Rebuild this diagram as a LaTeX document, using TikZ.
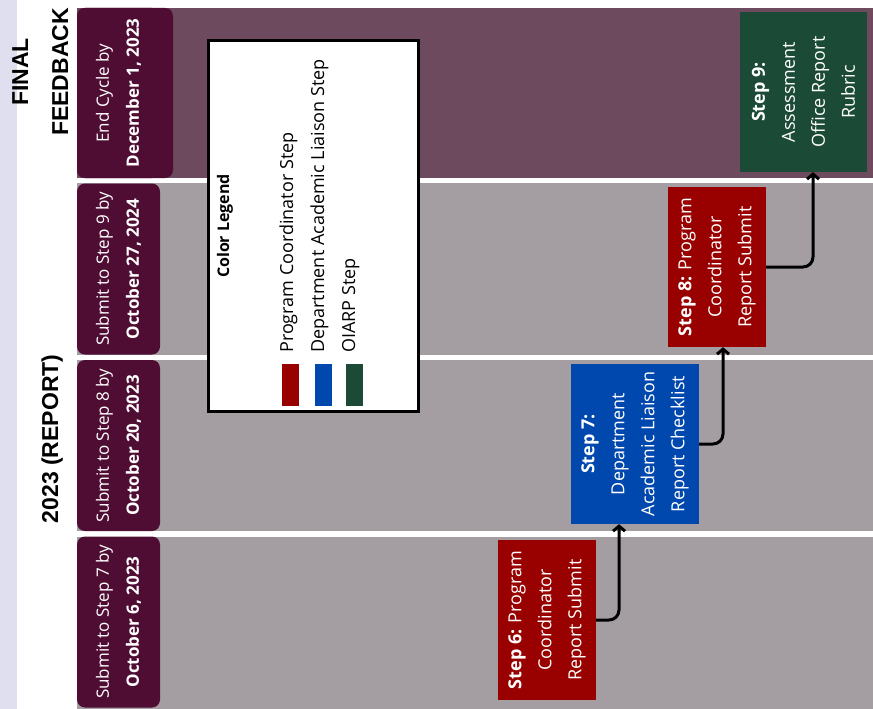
\documentclass[tikz,border=0pt]{standalone}
\usepackage{fontspec}
\setmainfont{Open Sans}
\newfontfamily\headfont{Liberation Sans}
\usetikzlibrary{arrows.meta,positioning}

\definecolor{sidelav}{HTML}{E0DFF0}
\definecolor{bandpurple}{HTML}{6D4A5E}
\definecolor{bandgray}{HTML}{A49EA3}
\definecolor{hdrmaroon}{HTML}{4F0D33}
\definecolor{stepred}{HTML}{990000}
\definecolor{stepblue}{HTML}{0048AD}
\definecolor{stepgreen}{HTML}{1B4A37}

\begin{document}
\begin{tikzpicture}[x=1pt, y=-1pt,
    hdr/.style={fill=hdrmaroon, rounded corners=8pt, text=white, rotate=90, align=center, minimum width=171pt, minimum height=83pt, inner sep=0pt, font=\fontsize{17}{30}\selectfont},
    stepbox/.style={text=white, rotate=90, align=center, minimum width=160pt, inner sep=0pt, font=\fontsize{18}{30}\selectfont},
    arr/.style={-{Straight Barb[length=5pt,width=12pt]}, line width=3pt, rounded corners=10pt},
    lgd/.style={rotate=90, anchor=base west, inner sep=0pt, font=\fontsize{18}{22}\selectfont},
    swatch/.style={minimum width=17pt, minimum height=42pt, inner sep=0pt},
    ttl/.style={rotate=90, anchor=base, inner sep=0pt, font=\headfont\bfseries\fontsize{23}{28}\selectfont}
]
\useasboundingbox (0,0) rectangle (873,709);

% bands
\fill[sidelav] (0,0) rectangle (17,709);
\fill[bandpurple] (77,8) rectangle (873,178);
\fill[bandgray] (77,183) rectangle (873,355);
\fill[bandgray] (77,360) rectangle (873,531);
\fill[bandgray] (77,537) rectangle (873,709);

% titles
\node[ttl] (final) at (28,72) {FINAL};
\node[ttl] (feedback) at (68,72) {FEEDBACK};
\node[ttl] (report) at (58,439) {2023 (REPORT)};

% deadlines
\fill[hdrmaroon, rounded corners=8pt] (77,8) rectangle (173,178);
\node[hdr, minimum width=170pt] (h1) at (118.5,93) {End Cycle by\\\textbf{December 1, 2023}};
\node[hdr] (h2) at (118.5,269) {Submit to Step 9 by\\\textbf{October 27, 2024}};
\node[hdr] (h3) at (118.5,445.5) {Submit to Step 8 by\\\textbf{October 20, 2023}};
\node[hdr] (h4) at (118.5,622) {Submit to Step 7 by\\\textbf{October 6, 2023}};

% legend
\node[draw, line width=3pt, fill=white, minimum width=210pt, minimum height=371pt, inner sep=0pt] (legend) at (313.5,226) {};
\node[rotate=90, anchor=base, inner sep=0pt, font=\bfseries\fontsize{16}{20}\selectfont] (lgdtitle) at (229,226) {Color Legend};
\node[lgd] (lgdpc) at (293,353) {Program Coordinator Step};
\node[lgd] (lgddal) at (324,353) {Department Academic Liaison Step};
\node[lgd] (lgdoiarp) at (355,353) {OIARP Step};
\node[swatch, fill=stepred] (swred) at (290.5,385) {};
\node[swatch, fill=stepblue] (swblue) at (323,385) {};
\node[swatch, fill=stepgreen] (swgreen) at (354,385) {};

% steps
\node[stepbox, fill=stepred, minimum height=98pt] (s6) at (547,620) {\textbf{Step 6:} Program\\Coordinator\\Report Submit};
\node[stepbox, fill=stepblue, minimum height=128pt] (s7) at (635,444) {\textbf{Step 7:}\\Department\\Academic Liaison\\Report Checklist};
\node[stepbox, fill=stepred, minimum height=98pt] (s8) at (717,267) {\textbf{Step 8:} Program\\Coordinator\\Report Submit};
\node[stepbox, fill=stepgreen, minimum height=127pt] (s9) at (803.5,92) {\textbf{Step 9:}\\Assessment\\Office Report\\Rubric};

\draw[arr] (s6.south) -| ([xshift=-16pt]s7.west);
\draw[arr] (s7.south) -| ([xshift=6pt]s8.west);
\draw[arr] (s8.south) -| ([xshift=9.5pt]s9.west);
\end{tikzpicture}
\end{document}
